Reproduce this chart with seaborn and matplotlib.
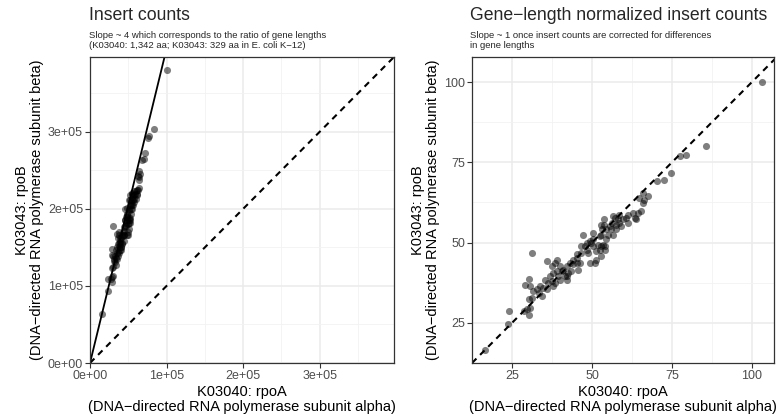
import numpy as np
import pandas as pd
import matplotlib
matplotlib.use("Agg")
import matplotlib.pyplot as plt
import seaborn as sns
from matplotlib.ticker import MultipleLocator, FuncFormatter

# Gene-length normalized insert counts
rpoA_norm = [103.1, 85.7, 79.3, 77.5, 74.6, 72.6, 70.3, 67.4, 65.8, 66.0, 66.4, 64.8, 65.3, 64.3,
             63.3, 61.2, 61.2, 59.6, 58.6, 58.1, 57.6, 56.5, 56.3, 55.5, 54.5, 55.0, 56.5, 56.0,
             53.9, 53.2, 52.9, 54.5, 52.9, 57.1, 58.6, 53.9, 52.4, 50.3, 49.8, 50.3, 51.9, 53.4,
             54.0, 52.4, 51.4, 52.9, 51.4, 50.9, 49.3, 48.8, 47.7, 47.2, 48.3, 46.7, 45.2, 46.7,
             45.2, 44.1, 45.7, 44.1, 43.1, 42.1, 42.6, 41.5, 40.5, 40.0, 41.0, 42.1, 39.5, 39.0,
             38.4, 39.0, 37.4, 37.9, 36.9, 37.4, 37.9, 38.4, 40.0, 36.4, 35.9, 35.3, 34.8, 35.9,
             32.8, 33.3, 34.3, 31.7, 31.2, 30.2, 30.7, 31.2, 29.1, 30.2, 30.7, 29.7, 30.2, 28.8,
             24.0, 23.7, 16.6, 33.8, 42.1, 43.6, 45.2, 46.2, 48.3, 49.3, 50.3, 52.9, 54.0, 57.6,
             59.1, 60.7, 62.7, 63.8]
rpoB_norm = [100.0, 80.0, 77.4, 76.9, 71.7, 69.6, 69.3, 64.4, 65.5, 62.4, 63.4, 63.9, 59.8, 59.2,
             57.7, 58.7, 56.1, 57.2, 58.7, 57.2, 55.6, 58.2, 56.1, 55.1, 54.1, 52.5, 52.5, 54.1,
             55.6, 54.1, 55.6, 51.0, 52.5, 57.7, 56.1, 57.2, 51.9, 51.0, 49.9, 48.9, 49.4, 49.4,
             47.8, 47.8, 47.3, 45.8, 44.7, 43.7, 43.7, 46.8, 48.9, 52.5, 47.8, 46.8, 45.2, 48.9,
             46.3, 44.7, 41.6, 43.2, 43.7, 42.7, 40.6, 39.5, 41.1, 42.7, 41.6, 38.5, 39.5, 41.1,
             43.7, 44.7, 42.7, 40.6, 39.5, 38.0, 36.4, 37.5, 38.5, 37.5, 35.4, 38.5, 35.9, 44.2,
             35.4, 34.4, 33.3, 34.9, 32.8, 32.3, 29.7, 46.8, 36.9, 38.8, 36.4, 29.2, 27.6, 28.7,
             28.7, 24.5, 16.6, 36.4, 39.5, 41.1, 43.7, 43.7, 49.9, 50.4, 53.0, 48.9, 48.9, 54.1,
             55.1, 57.7, 59.2, 57.2]

# Raw insert counts per normalized unit (back-converts the normalized values)
rpoA_counts_per_unit = 971.0
rpoB_counts_per_unit = 3800.0
gene_len_rpoA = 329
gene_len_rpoB = 1342

df = pd.DataFrame({"rpoA_norm": rpoA_norm, "rpoB_norm": rpoB_norm})
df["rpoA"] = df["rpoA_norm"] * rpoA_counts_per_unit
df["rpoB"] = df["rpoB_norm"] * rpoB_counts_per_unit

sns.set_theme(style="whitegrid")
plt.rcParams["font.family"] = ["Liberation Sans", "DejaVu Sans"]

W, H = 778, 415
fig = plt.figure(figsize=(W / 100, H / 100), dpi=100)
ax1 = fig.add_axes([90 / W, 52 / H, 304 / W, 306 / H])
ax2 = fig.add_axes([472 / W, 52 / H, 302 / W, 306 / H])

grid_col = "#EBEBEB"
for ax in (ax1, ax2):
    ax.set_facecolor("white")
    for s in ax.spines.values():
        s.set_color("#333333")
        s.set_linewidth(0.9)
        s.set_visible(True)
    ax.grid(True, which="major", color=grid_col, linewidth=1.1)
    ax.grid(True, which="minor", color="#F2F2F2", linewidth=0.6)
    ax.tick_params(which="major", length=3.5, width=0.8, color="#333333",
                   labelsize=9, labelcolor="#4D4D4D", pad=1.5, bottom=True, left=True)
    ax.tick_params(which="minor", length=0)
    ax.set_axisbelow(True)

pt_kw = dict(color="black", alpha=0.5, s=26, linewidth=0, legend=False)
lab_kw = dict(fontsize=10.5, color="black", linespacing=1.1)

xlab = "K03040: rpoA\n(DNA\u2212directed RNA polymerase subunit alpha)"
ylab = "K03043: rpoB\n(DNA\u2212directed RNA polymerase subunit beta)"

# Left panel: raw counts
sns.scatterplot(data=df, x="rpoA", y="rpoB", ax=ax1, **pt_kw)
lim1 = 3.97e5
ax1.set_xlim(0, lim1)
ax1.set_ylim(0, lim1)
xs = np.array([0, lim1])
ax1.plot(xs, xs * gene_len_rpoB / gene_len_rpoA, color="black", lw=1.3)
ax1.plot(xs, xs, color="black", lw=1.5, linestyle=(0, (3, 2.5)))
ax1.xaxis.set_major_locator(MultipleLocator(1e5))
ax1.yaxis.set_major_locator(MultipleLocator(1e5))
ax1.xaxis.set_minor_locator(MultipleLocator(5e4))
ax1.yaxis.set_minor_locator(MultipleLocator(5e4))
sci = FuncFormatter(lambda v, p: "{:.0e}".format(v) if v else "0e+00")
ax1.xaxis.set_major_formatter(sci)
ax1.yaxis.set_major_formatter(sci)
ax1.set_xlabel(xlab, labelpad=2, **lab_kw)
ax1.set_ylabel(ylab, labelpad=3, **lab_kw)

# Right panel: gene-length normalized
sns.scatterplot(data=df, x="rpoA_norm", y="rpoB_norm", ax=ax2, **pt_kw)
ax2.set_xlim(12.5, 106.9)
ax2.set_ylim(12.5, 107.8)
xs2 = np.array([12.5, 108])
ax2.plot(xs2, xs2, color="black", lw=1.5, linestyle=(0, (3, 2.5)))
ax2.xaxis.set_major_locator(MultipleLocator(25))
ax2.yaxis.set_major_locator(MultipleLocator(25))
ax2.xaxis.set_minor_locator(MultipleLocator(12.5))
ax2.yaxis.set_minor_locator(MultipleLocator(12.5))
ax2.set_xlabel(xlab, labelpad=2, **lab_kw)
ax2.set_ylabel(ylab, labelpad=3, **lab_kw)

# Titles and subtitles
fig.text(89 / W, 1 - 7 / H, "Insert counts", fontsize=12.7, va="top", ha="left")
fig.text(89 / W, 1 - 31 / H,
         "Slope ~ 4 which corresponds to the ratio of gene lengths\n(K03040: 1,342 aa; K03043: 329 aa in E. coli K\u221212)",
         fontsize=6.8, va="top", ha="left", linespacing=1.1)
fig.text(470 / W, 1 - 7 / H, "Gene\u2212length normalized insert counts", fontsize=12.7, va="top", ha="left")
fig.text(470 / W, 1 - 31 / H,
         "Slope ~ 1 once insert counts are corrected for differences\nin gene lengths",
         fontsize=6.8, va="top", ha="left", linespacing=1.1)

fig.savefig("out.png", dpi=100)
